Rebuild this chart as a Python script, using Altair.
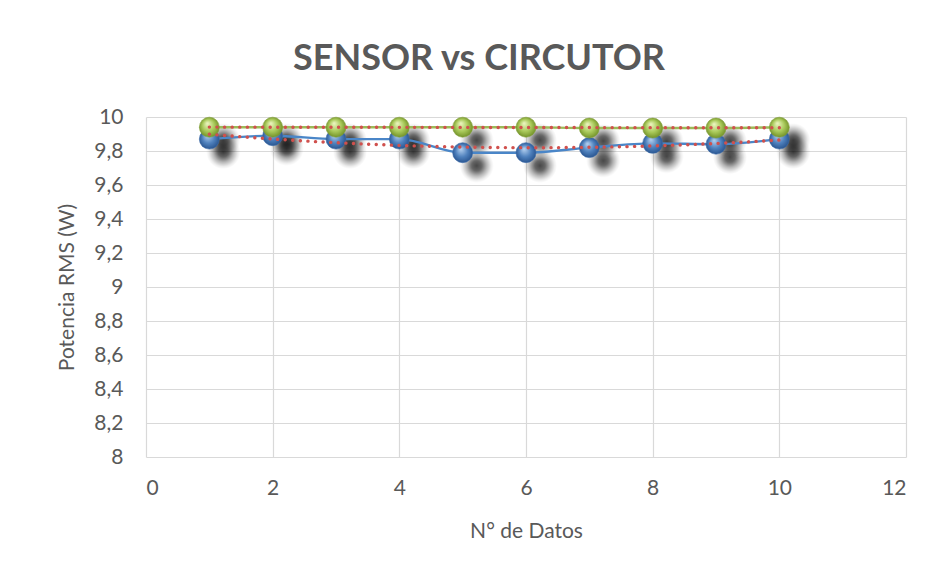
import altair as alt
import pandas as pd

datos = [1, 2, 3, 4, 5, 6, 7, 8, 9, 10]
sensor = [9.87, 9.89, 9.87, 9.87, 9.79, 9.79, 9.82, 9.845, 9.84, 9.87]
circutor = [9.94, 9.94, 9.94, 9.94, 9.94, 9.94, 9.935, 9.935, 9.935, 9.94]
y_ticks = [8, 8.2, 8.4, 8.6, 8.8, 9, 9.2, 9.4, 9.6, 9.8, 10]
x_ticks = [0, 2, 4, 6, 8, 10, 12]

df_s = pd.DataFrame({"x": datos, "y": sensor})
df_c = pd.DataFrame({"x": datos, "y": circutor})

FONT = "Lato"
GREY = "#595959"

xs = alt.X("x:Q", scale=alt.Scale(domain=[0, 12], nice=False, zero=False),
           axis=alt.Axis(values=x_ticks, title="N° de Datos"))
ys = alt.Y("y:Q", scale=alt.Scale(domain=[8, 10], nice=False, zero=False),
           axis=alt.Axis(values=y_ticks, title="Potencia RMS (W)",
                         labelExpr="replace(format(datum.value, '.1~f'), '.', ',')"))

def grad(light, mid, dark):
    return {
        "gradient": "radial",
        "x1": 0.4, "y1": 0.3, "r1": 0.0,
        "x2": 0.5, "y2": 0.5, "r2": 0.55,
        "stops": [
            {"offset": 0, "color": light},
            {"offset": 0.55, "color": mid},
            {"offset": 1, "color": dark},
        ],
    }

shadow_fill = {
    "gradient": "radial",
    "x1": 0.5, "y1": 0.5, "r1": 0.0,
    "x2": 0.5, "y2": 0.5, "r2": 0.5,
    "stops": [
        {"offset": 0, "color": "rgba(0,0,0,0.72)"},
        {"offset": 0.3, "color": "rgba(0,0,0,0.6)"},
        {"offset": 0.6, "color": "rgba(0,0,0,0.28)"},
        {"offset": 0.85, "color": "rgba(0,0,0,0.07)"},
        {"offset": 1, "color": "rgba(0,0,0,0)"},
    ],
}

def shadow(df):
    return alt.Chart(df).mark_point(
        filled=True, shape="circle", size=1150, opacity=1, fill=shadow_fill,
        strokeWidth=0, xOffset=14, yOffset=13
    ).encode(x=xs, y=ys)

blue_line = alt.Chart(df_s).mark_line(color="#4a86c8", strokeWidth=2.4,
                                      interpolate="monotone").encode(x=xs, y=ys)
green_line = alt.Chart(df_c).mark_line(color="#9bbb59", strokeWidth=2.4,
                                       interpolate="monotone").encode(x=xs, y=ys)

blue_pts = alt.Chart(df_s).mark_point(
    filled=True, size=400, shape="circle", opacity=1,
    fill=grad("#b9d4f2", "#4f81bd", "#244f8a"), stroke="#3a6aa8", strokeWidth=0.6
).encode(x=xs, y=ys)
green_pts = alt.Chart(df_c).mark_point(
    filled=True, size=400, shape="circle", opacity=1,
    fill=grad("#eef7c4", "#a9c95a", "#6b8a22"), stroke="#7f9e35", strokeWidth=0.6
).encode(x=xs, y=ys)

trend_s = alt.Chart(df_s).transform_regression(
    "x", "y", method="poly", order=2
).mark_line(color="#d0504d", strokeWidth=3.4, strokeDash=[0.1, 7.5],
            strokeCap="round").encode(x=xs, y=ys)
trend_c = alt.Chart(df_c).transform_regression(
    "x", "y", method="linear"
).mark_line(color="#d0504d", strokeWidth=3.4, strokeDash=[0.1, 7.5],
            strokeCap="round").encode(x=xs, y=ys)

layers = [shadow(df_s), shadow(df_c), blue_line, blue_pts, green_line, green_pts, trend_s, trend_c]

chart = alt.layer(*layers).properties(
    width=760, height=340,
    title=alt.TitleParams("SENSOR vs CIRCUTOR", fontSize=36, fontWeight="bold",
                          font=FONT, color=GREY, anchor="middle", dx=-47, offset=28),
    autosize=alt.AutoSizeParams(type="none"),
    padding={"left": 138, "top": 109, "right": 25, "bottom": 96},
).configure_axis(
    labelFont=FONT, titleFont=FONT, labelColor=GREY, titleColor=GREY,
    labelFontSize=21, titleFontSize=21, titleFontWeight="normal",
    grid=True, gridColor="#d9d9d9", gridWidth=1.2, domain=False, ticks=False, tickSize=0,
).configure_axisY(
    labelPadding=23, titlePadding=16,
).configure_axisX(
    labelPadding=20, titlePadding=22,
).configure_view(stroke=None)

chart.save("out.html", embed_options={"renderer": "svg", "actions": False})
